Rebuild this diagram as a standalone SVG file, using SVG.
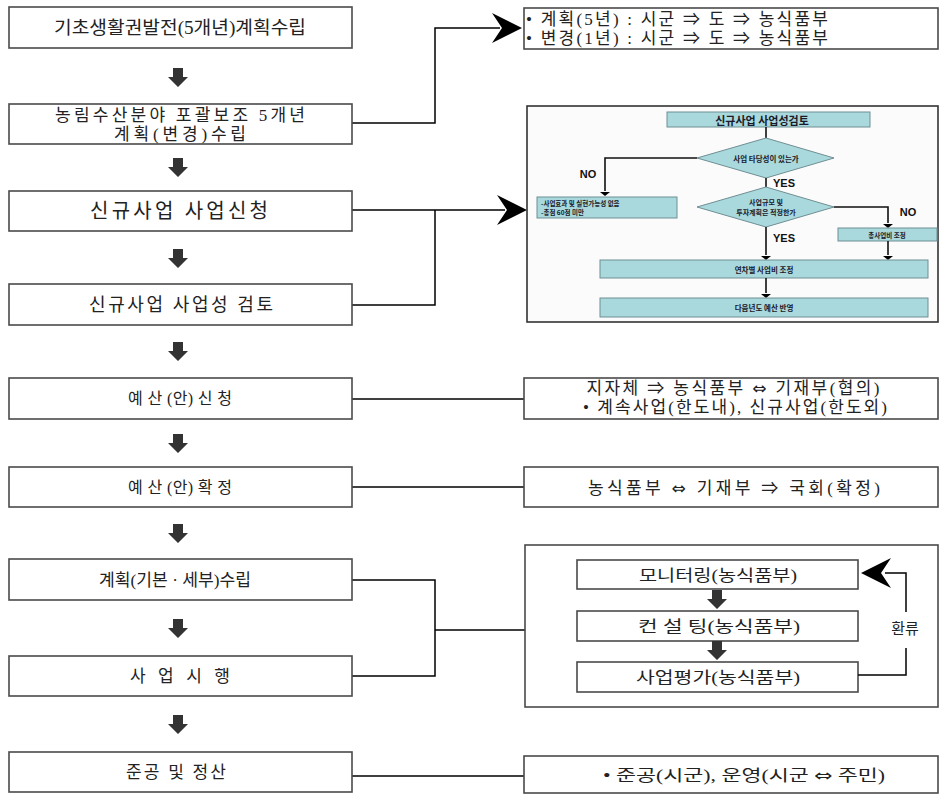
<svg xmlns="http://www.w3.org/2000/svg" width="940" height="794" viewBox="0 0 940 794">
  <style>
    .box { fill: #ffffff; stroke: #4a4a4a; stroke-width: 1.6; }
    .wire { fill: none; stroke: #000000; stroke-width: 1.5; }
    .down { fill: #333333; }
    .head { fill: #000000; }
    .t { font-family: "Liberation Serif", "Noto Sans CJK KR", serif; fill: #222222; dominant-baseline: central; text-anchor: middle; }
    .sym { font-family: "DejaVu Sans", "Noto Sans CJK KR", sans-serif; }
    .fc { fill: #a9d8dd; stroke: #6f8f93; stroke-width: 1; }
    .fw { fill: none; stroke: #111111; stroke-width: 1.6; }
    .ft { font-family: "Noto Sans CJK KR", "Liberation Sans", sans-serif; font-weight: 700; fill: #1a1a2a; dominant-baseline: central; text-anchor: middle; }
    .fl { font-family: "Liberation Sans", "Noto Sans CJK KR", sans-serif; font-weight: 700; fill: #111111; dominant-baseline: central; text-anchor: middle; font-size: 11px; }
    .t.s, .ft.s { text-anchor: start; }
  </style>
  <defs>
    <!-- block arrow used between the steps -->
    <path id="dn" d="M-5,0 H5 V9 H10 L0,19 L-10,9 H-5 Z"/>
    <!-- notched arrowhead pointing right, tip at origin -->
    <path id="hr" d="M0,0 L-30,-15 L-20,0 L-30,15 Z"/>
    <path id="sh" d="M0,0 L-5,-4 L5,-4 Z"/>
  </defs>

  <rect width="940" height="794" fill="#ffffff"/>

  <!-- connectors -->
  <g id="connectors">
    <polyline class="wire" points="352,123 435,123 435,28 500,28"/>
    <use href="#hr" class="head" x="522" y="28"/>

    <polyline class="wire" points="352,210 505,210"/>
    <polyline class="wire" points="352,305 435,305 435,210"/>
    <use href="#hr" class="head" x="527" y="210"/>

    <line class="wire" x1="352" y1="399" x2="524" y2="399"/>
    <line class="wire" x1="352" y1="487" x2="524" y2="487"/>

    <polyline class="wire" points="352,580 435,580 435,676 352,676"/>
    <line class="wire" x1="435" y1="630" x2="525" y2="630"/>

    <line class="wire" x1="352" y1="776" x2="524" y2="776" stroke-width="2"/>

    <!-- step arrows -->
    <use href="#dn" class="down" x="178" y="68"/>
    <use href="#dn" class="down" x="178" y="158"/>
    <use href="#dn" class="down" x="178" y="249"/>
    <use href="#dn" class="down" x="178" y="342"/>
    <use href="#dn" class="down" x="178" y="434"/>
    <use href="#dn" class="down" x="178" y="524"/>
    <use href="#dn" class="down" x="178" y="619"/>
    <use href="#dn" class="down" x="178" y="715"/>
  </g>

  <!-- left column steps -->
  <g id="step1">
    <rect class="box" x="9" y="7" width="343" height="41"/>
    <text class="t" x="180" y="28" font-size="18" textLength="252" lengthAdjust="spacingAndGlyphs">기초생활권발전(5개년)계획수립</text>
  </g>
  <g id="step2">
    <rect class="box" x="9" y="104" width="343" height="40"/>
    <text class="t" x="180" y="115" font-size="17" textLength="250" lengthAdjust="spacing">농림수산분야 포괄보조 5개년</text>
    <text class="t" x="180" y="134" font-size="17" textLength="132" lengthAdjust="spacing">계획(변경)수립</text>
  </g>
  <g id="step3">
    <rect class="box" x="9" y="191" width="343" height="40"/>
    <text class="t" x="179" y="211" font-size="20" textLength="178" lengthAdjust="spacing">신규사업 사업신청</text>
  </g>
  <g id="step4">
    <rect class="box" x="9" y="284" width="343" height="41"/>
    <text class="t" x="181" y="305" font-size="18" textLength="184" lengthAdjust="spacing">신규사업 사업성 검토</text>
  </g>
  <g id="step5">
    <rect class="box" x="9" y="378" width="343" height="41"/>
    <text class="t" x="180" y="398" font-size="16" textLength="104" lengthAdjust="spacing">예 산 (안) 신 청</text>
  </g>
  <g id="step6">
    <rect class="box" x="9" y="467" width="343" height="40"/>
    <text class="t" x="180" y="487" font-size="16" textLength="104" lengthAdjust="spacing">예 산 (안) 확 정</text>
  </g>
  <g id="step7">
    <rect class="box" x="9" y="559" width="343" height="41"/>
    <text class="t" x="175" y="580" font-size="17" textLength="152" lengthAdjust="spacingAndGlyphs">계획(기본 · 세부)수립</text>
  </g>
  <g id="step8">
    <rect class="box" x="9" y="656" width="343" height="40"/>
    <text class="t" x="180" y="676" font-size="17" textLength="100" lengthAdjust="spacing">사 업 시 행</text>
  </g>
  <g id="step9">
    <rect class="box" x="9" y="752" width="343" height="40"/>
    <text class="t" x="176" y="772" font-size="17" textLength="100" lengthAdjust="spacing">준공 및 정산</text>
  </g>

  <!-- right column notes -->
  <g id="note-plan">
    <rect class="box" x="524" y="8" width="414" height="41"/>
    <text class="t s" x="526" y="19" font-size="17" textLength="302" lengthAdjust="spacing">• 계획(5년) : 시군 ⇒ 도 ⇒ 농식품부</text>
    <text class="t s" x="526" y="38" font-size="17" textLength="302" lengthAdjust="spacing">• 변경(1년) : 시군 ⇒ 도 ⇒ 농식품부</text>
  </g>

  <g id="note-review">
    <rect x="527" y="106" width="411" height="216" fill="#fbfbfb" stroke="#333333" stroke-width="1.6"/>
    <!-- review flowchart -->
    <rect class="fc" x="667" y="112" width="203" height="15"/>
    <text class="ft" x="762" y="119.5" font-size="11">신규사업 사업성검토</text>
    <line class="fw" x1="766" y1="127" x2="766" y2="138"/>

    <polygon class="fc" points="766,138 834,158 766,178 697,158"/>
    <text class="ft" x="766" y="158" font-size="7.5">사업 타당성이 있는가</text>

    <polyline class="fw" points="697,158 605,158 605,191"/>
    <use href="#sh" class="head" x="605" y="196"/>
    <text class="fl" x="588" y="174">NO</text>
    <rect class="fc" x="537" y="197" width="140" height="21"/>
    <text class="ft s" x="541" y="203" font-size="6.5">-사업효과 및 실현가능성 없음</text>
    <text class="ft s" x="541" y="212" font-size="6.5">-총점 60점 미만</text>

    <line class="fw" x1="766" y1="178" x2="766" y2="187"/>
    <text class="fl" x="784" y="183">YES</text>

    <polygon class="fc" points="766,187 834,207 766,227 697,207"/>
    <text class="ft" x="766" y="202" font-size="7">사업규모 및</text>
    <text class="ft" x="766" y="212" font-size="7">투자계획은 적정한가</text>

    <polyline class="fw" points="834,207 888,207 888,223"/>
    <use href="#sh" class="head" x="888" y="228"/>
    <text class="fl" x="908" y="212">NO</text>
    <rect class="fc" x="838" y="228" width="99" height="13"/>
    <text class="ft" x="887" y="234.5" font-size="6.5">총사업비 조정</text>

    <line class="fw" x1="766" y1="227" x2="766" y2="255"/>
    <use href="#sh" class="head" x="766" y="260"/>
    <text class="fl" x="784" y="238">YES</text>

    <line class="fw" x1="888" y1="241" x2="888" y2="255"/>
    <use href="#sh" class="head" x="888" y="260"/>

    <rect class="fc" x="600" y="260" width="328" height="18"/>
    <text class="ft" x="764" y="269" font-size="7.5">연차별 사업비 조정</text>

    <line class="fw" x1="766" y1="278" x2="766" y2="293"/>
    <use href="#sh" class="head" x="766" y="298"/>

    <rect class="fc" x="600" y="298" width="328" height="19"/>
    <text class="ft" x="764" y="307.5" font-size="7.5">다음년도 예산 반영</text>
  </g>

  <g id="note-budget-request">
    <rect class="box" x="524" y="378" width="414" height="41"/>
    <text class="t" x="733" y="388" font-size="17" textLength="293" lengthAdjust="spacing">지자체 ⇒ 농식품부 <tspan class="sym">⇔</tspan> 기재부(협의)</text>
    <text class="t" x="735" y="407" font-size="17" textLength="304" lengthAdjust="spacing">• 계속사업(한도내), 신규사업(한도외)</text>
  </g>

  <g id="note-budget-confirm">
    <rect class="box" x="524" y="467" width="414" height="40"/>
    <text class="t" x="734" y="488" font-size="17" textLength="292" lengthAdjust="spacing">농식품부 <tspan class="sym">⇔</tspan> 기재부 ⇒ 국회(확정)</text>
  </g>

  <g id="note-monitoring">
    <rect class="box" x="525" y="545" width="413" height="162"/>
    <rect class="box" x="577" y="560" width="281" height="29"/>
    <text class="t" x="718" y="575" font-size="16" textLength="158" lengthAdjust="spacingAndGlyphs">모니터링(농식품부)</text>
    <use href="#dn" class="down" x="717" y="590"/>
    <rect class="box" x="577" y="611" width="281" height="30"/>
    <text class="t" x="719" y="626" font-size="16" textLength="162" lengthAdjust="spacingAndGlyphs">컨 설 팅(농식품부)</text>
    <use href="#dn" class="down" x="717" y="641"/>
    <rect class="box" x="577" y="662" width="281" height="30"/>
    <text class="t" x="718" y="677" font-size="16" textLength="164" lengthAdjust="spacingAndGlyphs">사업평가(농식품부)</text>
    <!-- feedback loop -->
    <polyline class="wire" points="858,675 906,675 906,648"/>
    <polyline class="wire" points="906,612 906,573 885,573"/>
    <use href="#hr" class="head" transform="translate(861,573) scale(-1,1)"/>
    <text class="t" x="905" y="629" font-size="15">환류</text>
  </g>

  <g id="note-completion">
    <rect class="box" x="524" y="756" width="414" height="37"/>
    <text class="t" x="744" y="775" font-size="16" textLength="282" lengthAdjust="spacingAndGlyphs">• 준공(시군), 운영(시군 <tspan class="sym">⇔</tspan> 주민)</text>
  </g>
</svg>
